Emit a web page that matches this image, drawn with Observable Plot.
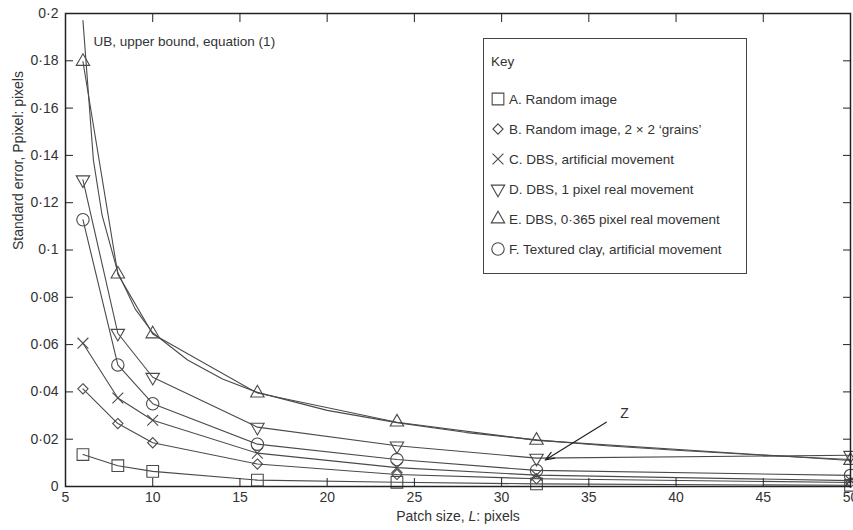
<!DOCTYPE html>
<html><head><meta charset="utf-8">
<script src="https://cdn.jsdelivr.net/npm/d3@7"></script>
<script src="https://cdn.jsdelivr.net/npm/@observablehq/plot@0.6"></script>
<style>
body{margin:0;background:#fff;font-family:"Liberation Sans",Arial,sans-serif;}
#wrap{position:relative;width:853px;height:530px;overflow:hidden;}
#key{position:absolute;left:483px;top:38px;width:264px;height:236px;border:1.3px solid #444;box-sizing:border-box;background:#fff;font-size:13.5px;color:#333;}
#key .ttl{position:absolute;left:7px;top:15px;}
#key .row{position:absolute;left:5px;height:20px;display:flex;align-items:center;white-space:nowrap;}
#key .row svg{margin-right:2px;}
</style></head><body><div id="wrap"></div><script>
// ---- data ----
const patchSize = [6, 8, 10, 16, 24, 32, 50];
const seriesA = [0.0135, 0.0088, 0.0064, 0.0027, 0.0018, 0.0011, 0.0005];
const seriesB = [0.0413, 0.0266, 0.0185, 0.0095, 0.0051, 0.0033, 0.0017];
const seriesC = [0.0606, 0.0374, 0.0280, 0.0141, 0.0080, 0.0048, 0.0025];
const seriesD = [0.1297, 0.0648, 0.0462, 0.0251, 0.0172, 0.0120, 0.0132];
const seriesE = [0.1797, 0.0898, 0.0645, 0.0395, 0.0272, 0.0195, 0.0110];
const seriesF = [0.1128, 0.0514, 0.0350, 0.0179, 0.0114, 0.0068, 0.0047];
const ubL = [6, 6.6, 7.1, 8, 9, 10, 12, 14, 16, 20, 24, 28, 32, 36, 40, 45, 50];
const ubV = [0.197, 0.138, 0.1146, 0.0905, 0.075, 0.065, 0.0535, 0.0455, 0.0398, 0.0322, 0.0270, 0.0228, 0.0197, 0.0172, 0.0153, 0.0132, 0.0114];
const seriesNames = ["A. Random image", "B. Random image, 2 \u00d7 2 \u2018grains\u2019", "C. DBS, artificial movement", "D. DBS, 1 pixel real movement", "E. DBS, 0\u00b7365 pixel real movement", "F. Textured clay, artificial movement"];
const xTicks = [5, 10, 15, 20, 25, 30, 35, 40, 45, 50];
const xTickLabels = ["5", "10", "15", "20", "25", "30", "35", "40", "45", "50"];
const yTicks = [0, 0.02, 0.04, 0.06, 0.08, 0.1, 0.12, 0.14, 0.16, 0.18, 0.2];
const yTickLabels = ["0", "0\u00b702", "0\u00b704", "0\u00b706", "0\u00b708", "0\u00b71", "0\u00b712", "0\u00b714", "0\u00b716", "0\u00b718", "0\u00b72"];
const xLabel = "Patch size, L: pixels";
const yLabel = "Standard error, Ppixel: pixels";
const ubLabel = "UB, upper bound, equation (1)";
const zLabel = "Z";
const zArrow = [{x1: 36.0, y1: 0.0272, x2: 32.5, y2: 0.0112}];
const zText = [{x: 36.8, y: 0.0310}];

// ---- styling ----
const lineColor = "#4a4a4a";
const textColor = "#333";
const sqrt3 = Math.sqrt(3);
const triangleDown = {draw(ctx, size) {
  const y = -Math.sqrt(size / (sqrt3 * 3));
  ctx.moveTo(0, -y * 2); ctx.lineTo(-sqrt3 * y, y); ctx.lineTo(sqrt3 * y, y); ctx.closePath();
}};
const series = [
  {values: seriesA, symbol: "square", r: 6.6},
  {values: seriesB, symbol: "diamond2", r: 4.6},
  {values: seriesC, symbol: "times", r: 5},
  {values: seriesD, symbol: triangleDown, r: 5},
  {values: seriesE, symbol: "triangle", r: 5},
  {values: seriesF, symbol: "circle", r: 6.2}
];

const W = 853, H = 530, mt = 13, mb = 44, ml = 65, mr = 3;

const marks = [];
marks.push(Plot.line(ubL, {x: d => d, y: (d, i) => ubV[i], stroke: lineColor, strokeWidth: 1.1}));
for (const s of series) {
  marks.push(Plot.line(patchSize, {x: d => d, y: (d, i) => s.values[i], stroke: lineColor, strokeWidth: 1.1}));
  marks.push(Plot.dot(patchSize, {x: d => d, y: (d, i) => s.values[i], symbol: s.symbol, r: s.r, stroke: lineColor, strokeWidth: 1.1, fill: "none"}));
}
marks.push(
  Plot.arrow(zArrow, {x1: "x1", y1: "y1", x2: "x2", y2: "y2", stroke: "#222", strokeWidth: 1.2, headLength: 12, headAngle: 40}),
  Plot.text(zText, {x: "x", y: "y", text: () => zLabel, fill: textColor, fontSize: 14, textAnchor: "start"}),
  Plot.text([ubLabel], {frameAnchor: "top-left", dx: 28, dy: 23, text: d => d, fill: textColor, fontSize: 13.5, textAnchor: "start"}),
  Plot.frame({stroke: "#222", strokeWidth: 1.5}),
  Plot.axisX({anchor: "bottom", ticks: xTicks, tickFormat: (d, i) => xTickLabels[i], tickSize: -8, tickPadding: 14, label: null, stroke: "#222", fill: textColor, fontSize: 14}),
  Plot.axisX({anchor: "top", ticks: xTicks, tickFormat: () => "", tickSize: -8, label: null, stroke: "#222"}),
  Plot.axisY({anchor: "left", ticks: yTicks, tickFormat: (d, i) => yTickLabels[i], tickSize: -8, tickPadding: 15, label: null, stroke: "#222", fill: textColor, fontSize: 14}),
  Plot.axisY({anchor: "right", ticks: yTicks, tickFormat: () => "", tickSize: -8, label: null, stroke: "#222"}),
  Plot.text([xLabel], {frameAnchor: "bottom", dy: 34, text: d => d, fill: textColor, fontSize: 14}),
  Plot.text([yLabel], {frameAnchor: "left", dx: -47, rotate: -90, text: d => d, fill: textColor, fontSize: 14})
);

const chart = Plot.plot({
  width: W, height: H,
  marginTop: mt, marginBottom: mb, marginLeft: ml, marginRight: mr,
  x: {domain: [5, 50]},
  y: {domain: [0, 0.2]},
  style: {fontFamily: "'Liberation Sans', Arial, sans-serif", fontSize: "14px", color: textColor, background: "#fff"},
  marks
});
const wrap = document.getElementById("wrap");
wrap.appendChild(chart);

// italic L in x label
for (const t of chart.querySelectorAll("text")) {
  if (t.textContent === xLabel) {
    t.textContent = "";
    const parts = [["Patch size, ", null], ["L", "italic"], [": pixels", null]];
    for (const [s, st] of parts) {
      const ts = document.createElementNS("http://www.w3.org/2000/svg", "tspan");
      ts.textContent = s; if (st) ts.setAttribute("font-style", st);
      t.appendChild(ts);
    }
  }
}

// legend (key)
const key = document.createElement("div");
key.id = "key";
key.innerHTML = '<div class="ttl">Key</div>';
const symTypes = [d3.symbolSquare, d3.symbolDiamond2, d3.symbolTimes, triangleDown, d3.symbolTriangle, d3.symbolCircle];
series.forEach((s, i) => {
  const row = document.createElement("div");
  row.className = "row";
  row.style.top = (50 + i * 30) + "px";
  const size = Math.PI * s.r * s.r;
  const path = d3.symbol(symTypes[i], size)();
  row.innerHTML = `<svg width="18" height="18" viewBox="-9 -9 18 18"><path d="${path}" fill="none" stroke="${lineColor}" stroke-width="1.1"/></svg><span>${seriesNames[i]}</span>`;
  key.appendChild(row);
});
wrap.appendChild(key);
</script></body></html>
